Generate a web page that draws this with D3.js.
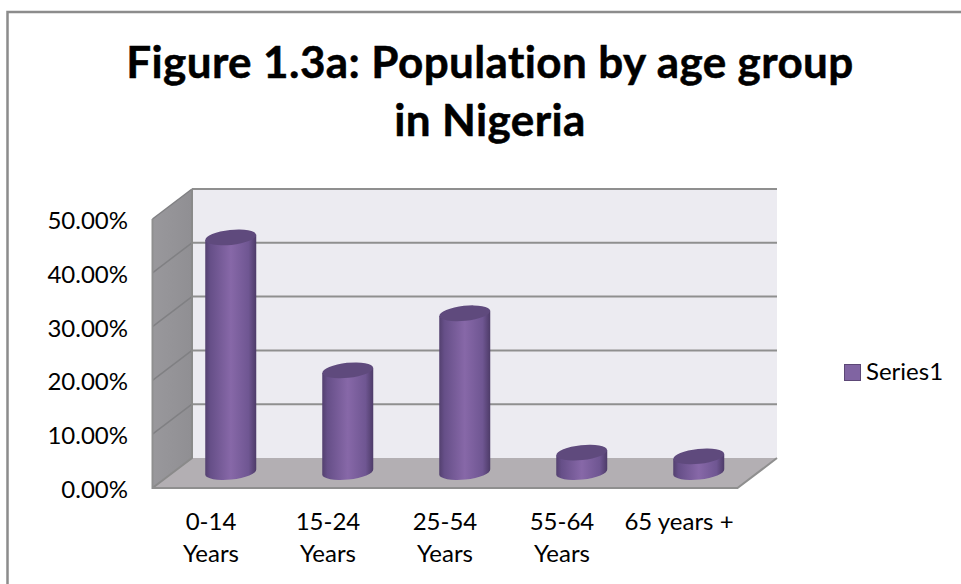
<!DOCTYPE html>
<html>
<head>
<meta charset="utf-8">
<script src="https://cdn.jsdelivr.net/npm/d3@7"></script>
<style>
  html, body { margin: 0; padding: 0; background: #fff; overflow: hidden; }
  svg { display: block; }
  text { font-family: Lato, "Open Sans", sans-serif; fill: #000; font-variant-ligatures: none; }
</style>
</head>
<body>
<div id="chart"></div>
<script>
// Values
var titleLines = ["Figure 1.3a: Population by age group", "in Nigeria"];
var categories = ["0-14", "15-24", "25-54", "55-64", "65 years +"];
var categoryLines = [["0-14", "Years"], ["15-24", "Years"], ["25-54", "Years"], ["55-64", "Years"], ["65 years +"]];
var values = [0.436, 0.189, 0.295, 0.036, 0.029];
var yTicks = [0, 0.1, 0.2, 0.3, 0.4, 0.5];
var seriesName = "Series1";

var svgWidth = 961;
var svgHeight = 584;

var svg = d3.select("#chart")
  .append("svg")
  .attr("width", svgWidth)
  .attr("height", svgHeight);

// Outer frame, right and bottom sides run off the picture
svg.append("path")
  .attr("d", `M7.5,${svgHeight}V12H${svgWidth}`)
  .attr("fill", "none")
  .attr("stroke", "#8c8c8c")
  .attr("stroke-width", 2.5);

// Title
svg.append("g").selectAll("text")
  .data(titleLines)
  .enter()
  .append("text")
  .attr("x", 490)
  .attr("y", (d, i) => 78 + i * 58)
  .attr("text-anchor", "middle")
  .attr("font-size", "44px")
  .attr("font-weight", "bold")
  .attr("letter-spacing", "0.4px")
  .attr("stroke", "#000")
  .attr("stroke-width", 0.5)
  .text(d => d);

// 3D box: the back wall is the reference, the front edge is shifted by depth
var backLeft = 192, backRight = 777;
var depthX = -39.5, depthY = 30;

var yBack = d3.scaleLinear().domain([0, 0.5]).range([458, 189]);

// the columns stand half way into the box
var xMid = d3.scaleBand()
  .domain(categories)
  .range([backLeft + depthX / 2, backRight + depthX / 2]);

var defs = svg.append("defs");

var wallGrad = defs.append("linearGradient").attr("id", "wallGrad");
wallGrad.append("stop").attr("offset", "0%").attr("stop-color", "#99989c");
wallGrad.append("stop").attr("offset", "100%").attr("stop-color", "#908f93");

var bodyGrad = defs.append("linearGradient").attr("id", "bodyGrad");
[["0%", "#53406f"], ["10%", "#664f88"], ["50%", "#8768a8"], ["85%", "#6f5692"], ["100%", "#4d3b68"]]
  .forEach(function(s) {
    bodyGrad.append("stop").attr("offset", s[0]).attr("stop-color", s[1]);
  });

var y0 = yBack(0), y5 = yBack(0.5);

// back wall
svg.append("rect")
  .attr("x", backLeft)
  .attr("y", y5)
  .attr("width", backRight - backLeft)
  .attr("height", y0 - y5)
  .attr("fill", "#ecebf1");

// left wall
svg.append("polygon")
  .attr("points", [[backLeft, y5], [backLeft + depthX, y5 + depthY], [backLeft + depthX, y0 + depthY], [backLeft, y0]].join(" "))
  .attr("fill", "url(#wallGrad)");

// floor
svg.append("polygon")
  .attr("points", [[backLeft, y0], [backRight, y0], [backRight + depthX, y0 + depthY], [backLeft + depthX, y0 + depthY]].join(" "))
  .attr("fill", "#b3afb3");

// gridlines, running round the back wall and the left wall
var grid = svg.append("g")
  .attr("fill", "none")
  .attr("stroke", "#8f8f8f")
  .attr("stroke-width", 2);

grid.selectAll("path.back")
  .data(yTicks.slice(1))
  .enter()
  .append("path")
  .attr("class", "back")
  .attr("d", d => `M${backLeft},${yBack(d)}H${backRight}`);

grid.selectAll("path.side")
  .data(yTicks.slice(1))
  .enter()
  .append("path")
  .attr("class", "side")
  .attr("stroke", "#808083")
  .attr("stroke-width", 1.5)
  .attr("d", d => `M${backLeft + depthX},${yBack(d) + depthY}L${backLeft},${yBack(d)}`);

// box edges
grid.append("path")
  .attr("d", `M${backLeft},${y5}V${y0}L${backLeft + depthX},${y0 + depthY}`)
  .attr("stroke", "#8a8a8a");
grid.append("path")
  .attr("d", `M${backLeft + depthX},${y5 + depthY}V${y0 + depthY}H${backRight + depthX}L${backRight},${y0}`);

// Columns
var rx = 25.5, ry = 7.5, tilt = -6, baseDrop = 14;

var cols = svg.append("g").selectAll("g")
  .data(values)
  .enter()
  .append("g")
  .attr("transform", (d, i) => `translate(${xMid(categories[i]) + xMid.bandwidth() / 2},0)`);

cols.append("path")
  .attr("fill", "url(#bodyGrad)")
  .attr("d", function(d) {
    var top = yBack(d) + baseDrop;
    var bottom = y0 + baseDrop;
    var dy = rx * Math.sin(tilt * Math.PI / 180);
    return `M${-rx},${top - dy}L${rx},${top + dy}L${rx},${bottom + dy}` +
      `A${rx},${ry} ${tilt} 0 1 ${-rx},${bottom - dy}Z`;
  });

cols.append("ellipse")
  .attr("cx", 0)
  .attr("cy", d => yBack(d) + baseDrop)
  .attr("rx", rx)
  .attr("ry", ry)
  .attr("transform", d => `rotate(${tilt} 0 ${yBack(d) + baseDrop})`)
  .attr("fill", "#5f4a7d");

// Y labels sit against the front edge of the left wall
svg.append("g").selectAll("text")
  .data(yTicks)
  .enter()
  .append("text")
  .attr("x", 128)
  .attr("y", d => yBack(d) + depthY + 10)
  .attr("text-anchor", "end")
  .attr("font-size", "24px")
  .text(d => d3.format(".2%")(d));

// X labels
var xFront = d3.scaleBand()
  .domain(categories)
  .range([backLeft + depthX, backRight + depthX]);

var xLabels = svg.append("g").selectAll("text")
  .data(categoryLines)
  .enter()
  .append("text")
  .attr("text-anchor", "middle")
  .attr("font-size", "24px");

xLabels.selectAll("tspan")
  .data((d, i) => d.map(t => ({ t: t, c: categories[i] })))
  .enter()
  .append("tspan")
  .attr("x", d => xFront(d.c) + xFront.bandwidth() / 2)
  .attr("y", (d, i) => 530 + i * 32)
  .text(d => d.t);

// Legend
var legend = svg.append("g");
legend.append("rect")
  .attr("x", 844.5)
  .attr("y", 364.5)
  .attr("width", 16)
  .attr("height", 16)
  .attr("fill", "#8064a2")
  .attr("stroke", "#5c4776");
legend.append("text")
  .attr("x", 866)
  .attr("y", 380)
  .attr("font-size", "24px")
  .text(seriesName);
</script>
</body>
</html>
